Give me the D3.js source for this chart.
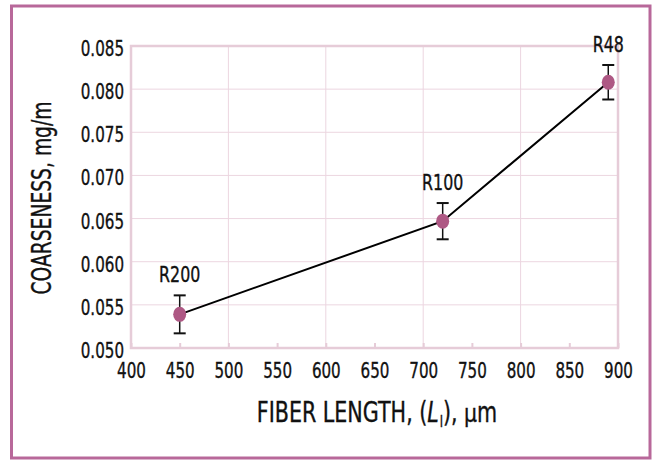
<!DOCTYPE html>
<html>
<head>
<meta charset="utf-8">
<script src="https://cdn.jsdelivr.net/npm/d3@7"></script>
<style>
  body { margin: 0; background: #fff; }
  text { font-family: "DejaVu Sans Condensed", "DejaVu Sans", sans-serif; fill: #111; stroke: #111; stroke-width: 0.35px; }
</style>
</head>
<body>
<div id="chart"></div>
<script>
// data
var samples = ["R200", "R100", "R48"];
var fiberLength = [450, 720, 890];
var coarseness = [0.0539, 0.0647, 0.0808];
var errBar = [0.0022, 0.0021, 0.002];
var xTicks = [400, 450, 500, 550, 600, 650, 700, 750, 800, 850, 900];
var yTicks = [0.050, 0.055, 0.060, 0.065, 0.070, 0.075, 0.080, 0.085];

var W = 652, H = 460;
var margin = {top: 46, right: 34, bottom: 112, left: 131},
    width = W - margin.left - margin.right,
    height = H - margin.top - margin.bottom;

var pink = "#b8689a", grid = "#ecd6e0", frame = "#e6ccd8", dot = "#ae5884";

var svg = d3.select("#chart")
  .append("svg")
    .attr("width", W)
    .attr("height", H);

// outer border
svg.append("rect")
  .attr("x", 11.5).attr("y", 6)
  .attr("width", 638.5).attr("height", 452)
  .attr("fill", "none")
  .attr("stroke", pink)
  .attr("stroke-width", 3);

var g = svg.append("g")
  .attr("transform", "translate(" + margin.left + "," + margin.top + ")");

var x = d3.scaleLinear().domain([400, 900]).range([0, width]);
var y = d3.scaleLinear().domain([0.050, 0.085]).range([height, 0]);

// grid
g.append("g").selectAll("line").data(xTicks).enter().append("line")
  .attr("x1", function(d) { return x(d); }).attr("x2", function(d) { return x(d); })
  .attr("y1", 0).attr("y2", height)
  .style("stroke", function(d) { return d % 100 == 0 ? grid : "none"; })
  .style("stroke-width", 1);
g.append("g").selectAll("line").data(yTicks).enter().append("line")
  .attr("x1", 0).attr("x2", width)
  .attr("y1", function(d) { return y(d); }).attr("y2", function(d) { return y(d); })
  .style("stroke", grid)
  .style("stroke-width", 1);

// frame
g.append("rect")
  .attr("width", width).attr("height", height)
  .attr("fill", "none")
  .attr("stroke", frame)
  .attr("stroke-width", 2.5);

// X axis
var xAxis = g.append("g")
  .attr("transform", "translate(0," + height + ")")
  .call(d3.axisBottom(x).tickValues(xTicks).tickSize(-5).tickFormat(d3.format("d")));
xAxis.select(".domain").remove();
xAxis.selectAll("line").style("stroke", frame).style("stroke-width", 2);
xAxis.selectAll("text").style("font-size", "21px").attr("dy", null).attr("y", 29.5);

// Y axis
var yAxis = g.append("g")
  .call(d3.axisLeft(y).tickValues(yTicks).tickSize(0).tickPadding(7).tickFormat(d3.format(".3f")));
yAxis.select(".domain").remove();
yAxis.selectAll("text").style("font-size", "21px").attr("dy", "0.45em");

// connecting line
var line = d3.line()
  .x(function(d, i) { return x(fiberLength[i]); })
  .y(function(d) { return y(d); });
g.append("path")
  .datum(coarseness)
  .attr("d", line)
  .attr("fill", "none")
  .style("stroke", "#000")
  .style("stroke-width", 2);

// error bars
var eb = g.append("g").selectAll("g").data(coarseness).enter().append("g");
eb.append("line")
  .attr("x1", function(d, i) { return x(fiberLength[i]); })
  .attr("x2", function(d, i) { return x(fiberLength[i]); })
  .attr("y1", function(d, i) { return y(d + errBar[i]); })
  .attr("y2", function(d, i) { return y(d - errBar[i]); })
  .style("stroke", "#111").style("stroke-width", 1.5);
[1, -1].forEach(function(s) {
  eb.append("line")
    .attr("x1", function(d, i) { return x(fiberLength[i]) - 6; })
    .attr("x2", function(d, i) { return x(fiberLength[i]) + 6; })
    .attr("y1", function(d, i) { return y(d + s * errBar[i]); })
    .attr("y2", function(d, i) { return y(d + s * errBar[i]); })
    .style("stroke", "#111").style("stroke-width", 2);
});

// dots
g.append("g").selectAll("ellipse").data(coarseness).enter().append("ellipse")
  .attr("cx", function(d, i) { return x(fiberLength[i]); })
  .attr("cy", function(d) { return y(d); })
  .attr("rx", 6.5).attr("ry", 7.5)
  .style("fill", dot);

// sample labels
g.append("g").selectAll("text").data(coarseness).enter().append("text")
  .attr("x", function(d, i) { return x(fiberLength[i]); })
  .attr("y", function(d, i) { return y(d + errBar[i]) - 13; })
  .attr("text-anchor", "middle")
  .style("font-size", "22px")
  .text(function(d, i) { return samples[i]; });

// y label
svg.append("text")
  .attr("transform", "translate(51,198) rotate(-90)")
  .attr("text-anchor", "middle")
  .style("font-size", "26px")
  .text("COARSENESS, mg/m");

// the reference font is narrower than DejaVu Condensed: squeeze every label
svg.selectAll("text").each(function() {
  var w = this.getComputedTextLength();
  d3.select(this).attr("textLength", w * 0.8).attr("lengthAdjust", "spacingAndGlyphs");
});

// x label (has tspans, so squeezed with a transform instead)
var xl = svg.append("text")
  .attr("transform", "translate(377,422) scale(0.82,1)")
  .attr("text-anchor", "middle")
  .style("font-size", "28px");
xl.append("tspan").text("FIBER LENGTH, (");
xl.append("tspan").style("font-style", "italic").text("L");
xl.append("tspan").attr("dx", 1).attr("dy", 5).style("font-size", "16px").style("font-style", "normal").text("l");
xl.append("tspan").attr("dy", -5).text("), ");
xl.append("tspan").style("font-family", "DejaVu Sans").style("font-size", "25px").text("\u03bc");
xl.append("tspan").text("m");
</script>
</body>
</html>
